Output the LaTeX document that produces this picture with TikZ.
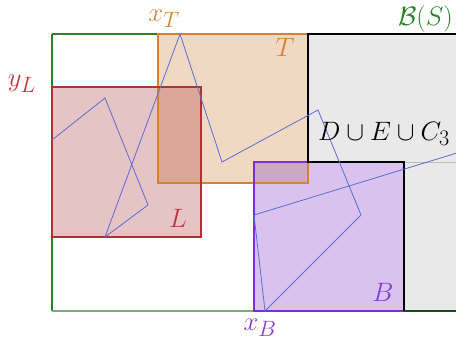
\documentclass[tikz,border=0pt]{standalone}
\usepackage{graphicx}
\usepackage{amsmath}
\newcommand{\biglbl}[1]{\scalebox{1.07}{\fontsize{24.88}{30}\selectfont #1}}
\begin{document}
\begin{tikzpicture}[x=1pt,y=-1pt,
  lbl/.style={inner sep=0pt},
  boxline/.style={line width=1.1pt},
  path/.style={draw=pathblue, line width=0.8pt, line join=miter}]
\definecolor{frame}{RGB}{40,130,40}
\definecolor{framelight}{RGB}{120,175,120}
\definecolor{tbase}{RGB}{202,128,52}
\definecolor{tline}{RGB}{214,130,50}
\definecolor{lbase}{RGB}{172,55,58}
\definecolor{lline}{RGB}{176,50,50}
\definecolor{ltext}{RGB}{190,55,60}
\definecolor{bbase}{RGB}{128,55,198}
\definecolor{bline}{RGB}{125,45,215}
\definecolor{btext}{RGB}{135,60,210}
\definecolor{grayfill}{RGB}{233,233,233}
\definecolor{pathblue}{RGB}{90,110,215}
\useasboundingbox (0,0) rectangle (456,341);
\clip (0,0) rectangle (456,341);
% gray region D u E u C3
\fill[grayfill] (308,34) -- (470,34) -- (470,311) -- (404,311) -- (404,162) -- (308,162) -- cycle;
\draw[black!25, line width=0.6pt] (404,162) -- (470,162);
% bounding frame B(S)
\draw[frame, line width=1.1pt] (52,34) -- (470,34);
\draw[frame, line width=1.1pt] (52,34) -- (52,311);
\draw[framelight, line width=1.1pt] (52,311) -- (404,311);
% boxes
\fill[tbase, fill opacity=0.3] (158,34) rectangle (308,183);
\fill[lbase, fill opacity=0.3] (52,87) rectangle (201,237);
\fill[bbase, fill opacity=0.3] (254,162) rectangle (404,311);
\draw[tline, boxline] (158,34) rectangle (308,183);
\draw[lline, boxline] (52,87) rectangle (201,237);
\draw[bline, boxline] (254,162) rectangle (404,311);
% gray region border
\draw[black, line width=1.1pt] (470,34) -- (308,34) -- (308,162) -- (404,162) -- (404,311);
\draw[frame!60!black, line width=1.1pt] (404,311) -- (470,311);
% path
\draw[path] (52,140) -- (105,98) -- (148,205) -- (105,237) -- (180,34) -- (222,162)
  -- (318,110) -- (361,215) -- (265,311) -- (254,215) -- (470,149);
% labels
\node[lbl, text=tline] (xT) at (164,19) {\biglbl{$x_T$}};
\node[lbl, text=ltext] (yL) at (22,84) {\biglbl{$y_L$}};
\node[lbl, text=frame, anchor=north east] (BS) at (453,5) {\biglbl{$\mathcal{B}(S)$}};
\node[lbl, text=tline] (Tl) at (285,47) {\biglbl{$T$}};
\node[lbl, anchor=west] (DEC) at (318,134) {\biglbl{$D\cup E\cup C_3$}};
\node[lbl, text=ltext] (Ll) at (178,218) {\biglbl{$L$}};
\node[lbl, text=btext] (Bl) at (383,292) {\biglbl{$B$}};
\node[lbl, text=btext] (xB) at (260,328) {\biglbl{$x_B$}};
\end{tikzpicture}
\end{document}
